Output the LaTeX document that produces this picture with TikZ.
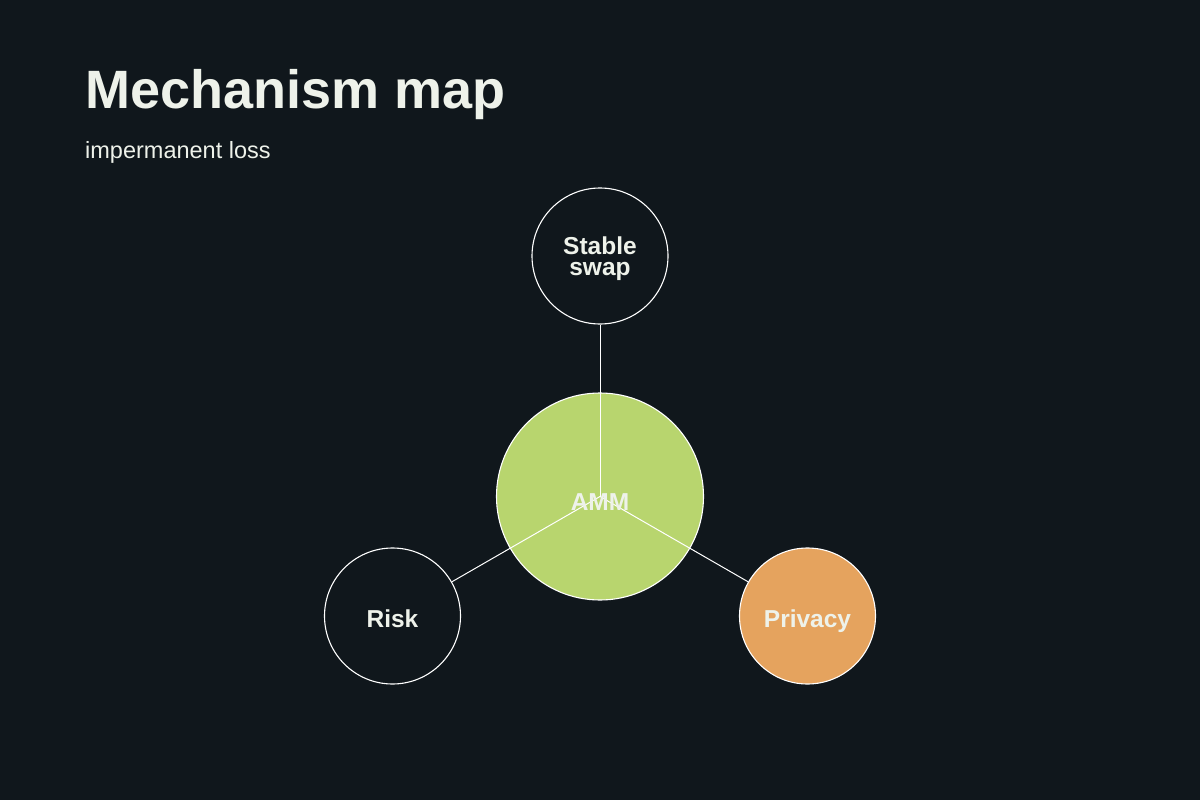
\documentclass[tikz,border=0pt]{standalone}
\usepackage{fontspec}
\setmainfont{Liberation Sans}
\begin{document}
\begin{tikzpicture}[x=1pt,y=-1pt,
  bub/.style={circle,draw=white,line width=1.1pt,inner sep=0pt,minimum size=136pt},
  lab/.style={inner sep=0pt,align=center,text=txt,font=\bfseries\fontsize{24.5}{21}\selectfont},
  link/.style={draw=white,line width=1pt}]
\definecolor{bg}{HTML}{10171C}
\definecolor{txt}{HTML}{EEF2EA}
\definecolor{amm}{HTML}{B8D56E}
\definecolor{priv}{HTML}{E5A35E}
\fill[bg] (0,0) rectangle (1200,800);
\useasboundingbox (0,0) rectangle (1200,800);
\node[anchor=base west,inner sep=0pt,text=txt,font=\bfseries\fontsize{54}{60}\selectfont] (title) at (85,108) {Mechanism map};
\node[anchor=base west,inner sep=0pt,text=txt,font=\fontsize{23.5}{26}\selectfont] (sub) at (85,158) {impermanent loss};
\node[bub,fill=amm,minimum size=207pt] (amm) at (600,496.5) {};
\node[bub,fill=bg] (ss) at (600,256) {};
\node[bub,fill=bg] (risk) at (392.5,616) {};
\node[bub,fill=priv] (priv) at (807.5,616) {};
\draw[link] (amm.center) -- (ss);
\draw[link] (amm.center) -- (risk);
\draw[link] (amm.center) -- (priv);
\node[lab] (sslabel) at (600,258.5) {Stable\\swap};
\node[lab,anchor=base] (risklabel) at (392.5,627) {Risk};
\node[lab,anchor=base] (privlabel) at (807.5,627) {Privacy};
\node[lab,anchor=base] (ammlabel) at (600,510) {AMM};
\end{tikzpicture}
\end{document}
